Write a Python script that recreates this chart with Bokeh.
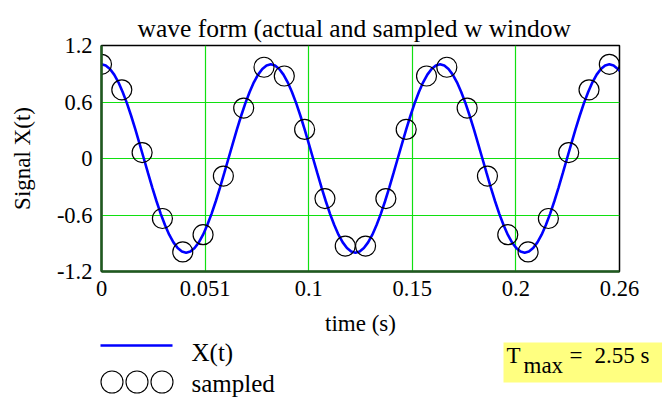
from bokeh.plotting import figure
from bokeh.models import Range1d, FixedTicker
from bokeh.embed import file_html
from bokeh.resources import INLINE
from bokeh.core.properties import value

# ---------------- data ----------------
title_text = "wave form (actual and sampled w window"
x_label = "time (s)"
y_label = "Signal X(t)"
x_ticks = [0, 0.051, 0.102, 0.153, 0.204, 0.255]
x_tick_labels = ["0", "0.051", "0.1", "0.15", "0.2", "0.26"]
y_ticks = [-1.2, -0.6, 0, 0.6, 1.2]
y_tick_labels = ["-1.2", "-0.6", "0", "0.6", "1.2"]

# continuous signal X(t), read every 1/480 s, last point at the axis end (0.255 s)
wave_dt = 1 / 480
wave_x = [
    1.000, 0.988, 0.951, 0.891, 0.809, 0.707, 0.588, 0.454, 0.309, 0.156,
    0.000, -0.156, -0.309, -0.454, -0.588, -0.707, -0.809, -0.891, -0.951, -0.988,
    -1.000, -0.988, -0.951, -0.891, -0.809, -0.707, -0.588, -0.454, -0.309, -0.156,
    0.000, 0.156, 0.309, 0.454, 0.588, 0.707, 0.809, 0.891, 0.951, 0.988,
    1.000, 0.988, 0.951, 0.891, 0.809, 0.707, 0.588, 0.454, 0.309, 0.156,
    0.000, -0.156, -0.309, -0.454, -0.588, -0.707, -0.809, -0.891, -0.951, -0.988,
    -1.000, -0.988, -0.951, -0.891, -0.809, -0.707, -0.588, -0.454, -0.309, -0.156,
    0.000, 0.156, 0.309, 0.454, 0.588, 0.707, 0.809, 0.891, 0.951, 0.988,
    1.000, 0.988, 0.951, 0.891, 0.809, 0.707, 0.588, 0.454, 0.309, 0.156,
    0.000, -0.156, -0.309, -0.454, -0.588, -0.707, -0.809, -0.891, -0.951, -0.988,
    -1.000, -0.988, -0.951, -0.891, -0.809, -0.707, -0.588, -0.454, -0.309, -0.156,
    0.000, 0.156, 0.309, 0.454, 0.588, 0.707, 0.809, 0.891, 0.951, 0.988,
    1.000, 0.988, 0.951, 0.930,
]
wave_t = [i * wave_dt for i in range(len(wave_x) - 1)] + [0.255]

# sampled values, every 0.01 s
sample_dt = 0.01
sample_x = [
    1.000, 0.729, 0.063, -0.637, -0.992, -0.809, -0.187, 0.536, 0.969, 0.876,
    0.309, -0.426, -0.930, -0.930, -0.426, 0.309, 0.876, 0.969, 0.536, -0.187,
    -0.809, -0.992, -0.637, 0.063, 0.729, 1.000, 0.729,
]
sample_t = [i * sample_dt for i in range(len(sample_x))]

legend_labels = ["X(t)", "sampled"]
tmax_text = ["T", "max", "=", "2.55 s"]

FONT = "Liberation Serif"
BLUE = "#0000ff"
GRID = "#10e010"
AXIS = "#1f5a1f"
INK = "black"

TOP_H = 306          # height of the plot part (frame + tick labels)
PAGE_W, PAGE_H = 662, 401

# ---------------- main plot ----------------
p = figure(width=PAGE_W, height=TOP_H,
           x_range=Range1d(0, 0.255), y_range=Range1d(-1.2, 1.2),
           output_backend="svg", toolbar_location=None,
           min_border_left=101, min_border_right=43,
           min_border_top=45, min_border_bottom=TOP_H - 271)
p.background_fill_color = "white"
p.border_fill_color = "white"
p.outline_line_color = "black"
p.outline_line_width = 1.5

p.title.text = title_text
p.title.text_font = FONT
p.title.text_font_size = "25.5px"
p.title.text_font_style = "normal"
p.title.text_color = INK
p.title.align = "left"
p.title.offset = 36
p.title.standoff = 6

p.xaxis.ticker = FixedTicker(ticks=x_ticks)
p.xaxis.major_label_overrides = {t: l for t, l in zip(x_ticks, x_tick_labels)}
p.yaxis.ticker = FixedTicker(ticks=y_ticks)
p.yaxis.major_label_overrides = {t: l for t, l in zip(y_ticks, y_tick_labels)}
p.yaxis.axis_label = y_label
for ax in (p.xaxis, p.yaxis):
    ax.axis_label_text_font = FONT
    ax.axis_label_text_font_size = "23px"
    ax.axis_label_text_font_style = "normal"
    ax.axis_label_text_color = INK
    ax.major_label_text_font = FONT
    ax.major_label_text_font_size = "22.5px"
    ax.major_label_text_color = INK
    ax.major_tick_line_color = None
    ax.minor_tick_line_color = None
    ax.major_tick_out = 0
    ax.major_tick_in = 0
    ax.axis_line_color = AXIS
    ax.axis_line_width = 2.5
p.xaxis.major_label_standoff = 9
p.yaxis.major_label_standoff = 9
p.yaxis.axis_label_standoff = 19

p.grid.grid_line_color = GRID
p.grid.grid_line_width = 1.2
p.xgrid.ticker = FixedTicker(ticks=x_ticks)
p.ygrid.ticker = FixedTicker(ticks=y_ticks)

p.line(wave_t, wave_x, line_color=BLUE, line_width=2.6)
p.scatter(sample_t, sample_x, marker="circle", size=20,
          fill_color=None, line_color="black", line_width=1.2)

# ---------------- strip below: x-axis title, legend, T_max box ----------------
# this strip uses page-pixel coordinates (x from the left, y from the top)
p2 = figure(width=PAGE_W, height=PAGE_H - TOP_H,
            x_range=Range1d(0, PAGE_W), y_range=Range1d(PAGE_H, TOP_H),
            output_backend="svg", toolbar_location=None,
            x_axis_type=None, y_axis_type=None, min_border=0)
p2.outline_line_color = None
p2.grid.visible = False
p2.background_fill_color = "white"
p2.border_fill_color = "white"

p2.text([360], [323], text=[x_label], text_font=value(FONT), text_font_size="23px",
        text_color=INK, text_baseline="alphabetic", text_align="center")

p2.line([100, 172], [345, 345], line_color=BLUE, line_width=2.7)
p2.scatter([111.5, 136.5, 161.5], [381.5, 381.5, 381.5], marker="circle", size=22,
           fill_color=None, line_color="black", line_width=1.1)
p2.text([191, 191], [352, 383], text=legend_labels,
        text_font=value(FONT), text_font_size="25px", text_color=INK,
        text_baseline="alphabetic", text_align="left")

p2.quad(left=[503], right=[662], top=[342], bottom=[382],
        fill_color="#ffff80", line_color=None)
p2.text([506, 523, 569, 594], [354.5, 364.5, 354.5, 354.5], text=tmax_text,
        text_font=value(FONT), text_font_size="23px", text_color=INK,
        text_baseline="alphabetic", text_align="left")

open("out.html", "w").write(file_html([p, p2], INLINE))
